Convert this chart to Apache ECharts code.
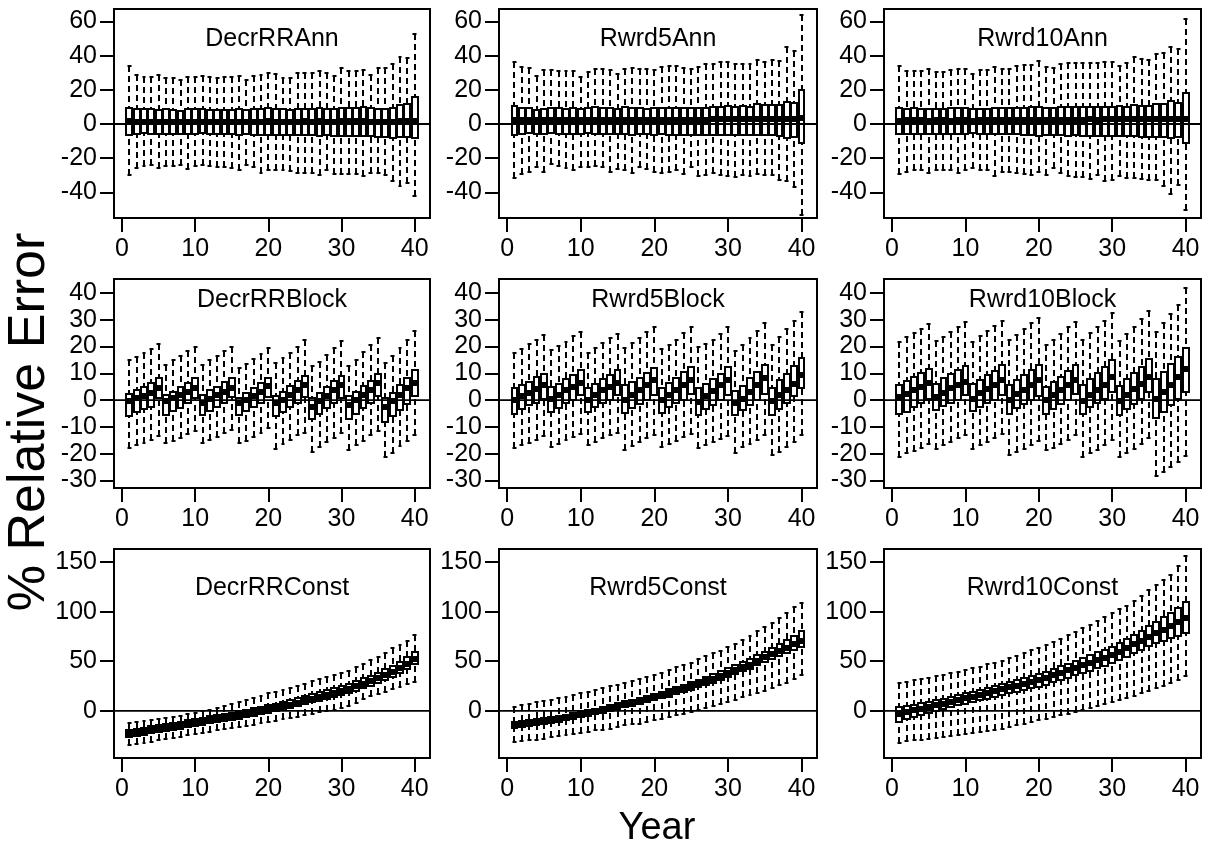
<!DOCTYPE html>
<html><head><meta charset="utf-8">
<script src="https://cdn.jsdelivr.net/npm/echarts@6/dist/echarts.min.js"></script>
<style>html,body{margin:0;padding:0;background:#fff}#c{width:1208px;height:852px}</style>
</head><body><div id="c"></div>
<script>
// ---------- DATA ----------
const years = [1,2,3,4,5,6,7,8,9,10,11,12,13,14,15,16,17,18,19,20,21,22,23,24,25,26,27,28,29,30,31,32,33,34,35,36,37,38,39,40];
const xTicks = [0,10,20,30,40];
const yTicksAnn = [-40,-20,0,20,40,60];
const yTicksBlock = [-30,-20,-10,0,10,20,30,40];
const yTicksConst = [0,50,100,150];
const panelTitles = ['DecrRRAnn','Rwrd5Ann','Rwrd10Ann','DecrRRBlock','Rwrd5Block','Rwrd10Block','DecrRRConst','Rwrd5Const','Rwrd10Const'];
const xLabel = 'Year';
const yLabel = '% Relative Error';

// DecrRRAnn
const decrAnnHi = [34,28.8,27.5,27.5,28.8,27,27,26,27.5,27.5,28.3,27.5,27,27.5,27.5,28.3,26,28,28.8,29.8,29.4,27,27,29.8,29.8,29.8,31,30,28.3,32.7,30.8,30.8,31.4,28.8,32.7,32.7,35,39,38.8,52.6];
const decrAnnQ3 = [9.5,8.8,8.5,8.8,8.3,8.6,8,7.8,8.6,8.5,8.8,8.2,8,8.4,8.2,8.5,8,8.5,9,9.3,9,8.5,8.4,8.8,9,8.8,9.2,8.6,8.8,9.6,9.3,9.2,10,9.3,8.8,8.8,9.5,11,11.8,15.6];
const decrAnnMed = [1.5,1.2,1.3,1.4,1.2,1.3,1.1,1.2,1.3,1.2,1.3,1.2,1.1,1.3,1.2,1.2,1.1,1.3,1.4,1.5,1.4,1.3,1.2,1.4,1.5,1.4,1.5,1.4,1.3,1.6,1.5,1.5,1.6,1.4,1.3,1.2,1.3,1.6,1.8,2];
const decrAnnQ1 = [-6.2,-5.6,-5.4,-5.6,-5.8,-5.6,-5.8,-6,-5.7,-5.6,-5.5,-5.8,-6,-5.9,-6,-6.2,-5.8,-6.3,-6.6,-6.4,-6.3,-6.4,-6.5,-6.6,-6.5,-6.6,-6.8,-6.5,-6.8,-6.9,-6.8,-6.9,-6.8,-7,-7.4,-7.8,-8.2,-7.6,-7.4,-8.2];
const decrAnnLo = [-30,-25.7,-24.8,-24.2,-25.7,-24.8,-24.8,-23.8,-26.3,-24.8,-24.2,-24.8,-25.1,-25.3,-25.7,-26.7,-23.8,-25.3,-28.6,-26.7,-26.7,-27.1,-27.7,-28.6,-28.6,-28.6,-29.6,-26.7,-29,-29,-29,-29,-30.2,-28.6,-28.6,-29.6,-33.5,-36.5,-34.5,-42.3];

// Rwrd5Ann
const r5AnnHi = [36.3,33.4,33,28,31.8,31.5,31,31,31,27.6,30.5,32,32,31.5,29,32.4,32.8,32.4,32,31.5,33.4,33.8,33.8,33,32.4,33.4,35,35.3,36,36.3,35.3,35.3,35.3,37.3,36.3,37.3,36.9,45,42.5,63.5];
const r5AnnQ3 = [10.5,9.2,9.5,8,9,9.2,9.3,9,9.2,9,9.4,9.8,9.5,9.3,9,9.8,9.2,9.4,9,9.3,9.2,9.5,9.3,9.6,9.4,9.2,9.5,10,10.2,10.5,10,10.3,10.2,11.5,11.3,11.2,11,13,12.5,19.8];
const r5AnnMed = [2.5,2.4,2.5,2.3,2.4,2.5,2.4,2.5,2.3,2.4,2.5,2.6,2.5,2.4,2.5,2.6,2.4,2.5,2.4,2.5,2.6,2.5,2.4,2.6,2.5,2.4,2.6,2.7,2.8,2.9,2.8,2.8,2.9,3,3,3.1,3,3.2,3.1,3.3];
const r5AnnQ1 = [-6.2,-5.7,-5.5,-5.8,-5.6,-5.4,-5.6,-5.8,-5.7,-5.6,-5.5,-5.7,-5.9,-6,-5.8,-5.9,-6.2,-6,-6.1,-6.2,-6.1,-6.3,-6.4,-6.3,-6.2,-6.6,-6.5,-6.3,-6.6,-6.7,-6.6,-6.5,-6.6,-6.4,-6.3,-6.6,-7,-8.3,-7.4,-10.9];
const r5AnnLo = [-31.7,-29,-27.8,-24.9,-28,-23.5,-24.3,-25.8,-26.8,-24.9,-25.2,-24.5,-25.4,-27.8,-26.4,-26.8,-28.7,-24.9,-26.4,-27.8,-28.7,-27.8,-27.2,-29,-24.9,-30.7,-29.7,-28.7,-29.7,-30.7,-31,-29.7,-30.3,-29.3,-29.7,-29.7,-32.6,-33.2,-36.9,-53];

// Rwrd10Ann
const r10AnnHi = [33.8,31,31,30.9,32.4,30.5,30.5,31.5,32.4,32.4,29,31.5,31.5,33.4,32.4,32.4,33.8,34.4,34.8,36.9,33.4,33,35.3,35.9,35.9,35.9,35.9,35.9,36.3,36.3,33.8,35.7,39.2,37.9,37.7,41.2,41.7,45,43.7,61.5];
const r10AnnQ3 = [9.5,8.8,9.6,8.9,9,8.8,9,9.2,9.4,9.1,8.8,9,9,9.3,9.4,9.2,9.5,9.6,9.8,9.7,9.5,9.6,9.8,10,9.9,9.8,10,10.2,10,10.1,10.3,10.2,11,10.6,10.8,12,12,13.5,12.5,18.3];
const r10AnnMed = [2,2.1,2.2,2.1,2,2.1,2.2,2,2.1,2.2,2,2.1,2.2,2.3,2.2,2.3,2.4,2.3,2.4,2.5,2.3,2.4,2.5,2.6,2.5,2.6,2.7,2.6,2.7,2.8,2.7,2.8,2.9,3,2.9,3,3.1,3.2,3,3.1];
const r10AnnQ1 = [-5.8,-5.6,-5.9,-5.7,-5.6,-5.8,-5.6,-5.7,-5.8,-5.6,-5.5,-5.8,-6,-6,-5.9,-6.1,-6,-6.2,-6.4,-6.9,-6.2,-6.4,-6.6,-6.8,-6.7,-6.8,-7.1,-6.8,-7.2,-7.1,-7,-7.3,-7.2,-7.4,-7.4,-7.6,-7.8,-7.9,-7.8,-10.9];
const r10AnnLo = [-29.1,-27.8,-26.8,-26.8,-28.7,-26.8,-27.2,-27.2,-28.7,-27.2,-25.8,-26.8,-27.2,-30.3,-28.3,-28.3,-28.7,-29.1,-29.7,-28.3,-29.7,-25.8,-28.7,-30.7,-31,-31,-32.2,-29.7,-33.6,-33,-30.7,-31.7,-31.7,-32,-32.6,-32.6,-36.5,-41,-35.5,-50.1];

// DecrRRBlock
const decrBlkHi = [15,16,17.6,19.2,21,13.2,14.8,16.3,18.2,19.8,13,14.8,16.3,18.4,20,12,13.6,15.3,17.3,19.4,13.8,15.7,17.6,19.8,22.3,12.6,14.4,16.9,19.4,21.9,12.8,15,17.9,20.7,23.2,13.8,16.6,19.4,22.3,25.7];
const decrBlkQ3 = [2.4,3.6,4.9,6.4,8.1,2,3.2,4.9,6.4,8.1,2,3.6,4.9,6.6,8.2,0.7,2.6,4.5,6.4,8.2,1.4,3.2,5.1,7,9.1,0.7,2.6,4.9,7,9.1,1.4,2.9,5.1,7.3,9.8,0.7,2.6,5.7,8.2,11.3];
const decrBlkMed = [-0.5,0.7,1.6,2.6,4.5,-0.5,0.7,2,3.2,4.5,-0.9,0.4,2,3.2,4.7,-1.1,0.1,1.6,3.2,5.1,-1.1,0.1,2,3.9,5.7,-2.4,-0.5,1.4,3.6,5.7,-1.7,0.1,2,3.9,6.4,-2.4,-0.5,2,4.5,6.4];
const decrBlkQ1 = [-5.9,-4.6,-3.4,-2.4,0.7,-5.5,-4.2,-3,-1.1,0.7,-5.5,-3.9,-2.4,-0.9,1,-5.5,-3.9,-2.4,-0.9,1,-6.1,-4.6,-2.6,-1.1,1.1,-7,-5.1,-3,-1.1,0.7,-7.1,-5.1,-3,-1.1,1.4,-8.3,-5.9,-3.6,-1.4,1.4];
const decrBlkLo = [-17.9,-16.7,-16.1,-14.8,-13.3,-16.1,-15.1,-14.2,-12.7,-11.7,-16.1,-14.8,-13.8,-12.3,-11.1,-16.1,-15.1,-13.6,-12.3,-10.5,-18.3,-16.3,-14.8,-13,-12.3,-19.2,-17.6,-15.8,-14.2,-12.3,-18.8,-16.7,-15.1,-13,-11.7,-21.3,-19.6,-17.3,-15.4,-12.9];

// Rwrd5Block
const r5BlkHi = [17.6,19,21,22.4,24.3,18.7,20.3,21.8,23.8,25.5,17.7,19.4,21.2,23,24.8,19.4,21.2,23,25.3,27.1,19,20.5,22.4,24.9,27.1,19.7,21,22.4,24.7,27.1,18.4,20.5,23,25.9,28.9,20.5,23.4,26.5,29.6,33];
const r5BlkQ3 = [4.4,5.6,6.8,8.5,9.7,5,6.2,7.7,9.3,11.2,4.4,6,7.7,9.3,11.2,5.6,6.8,8.1,10,11.8,4.7,6.5,8.1,10.6,12.5,4.4,6,7.7,9.7,12.2,3.5,5.2,8.1,10.6,13.1,4.7,7.5,9.7,12.7,15.6];
const r5BlkMed = [0,1.5,2.5,4,5.6,0.6,1.9,3.7,5,6.5,0,1.9,3.7,5,6.5,0,1.9,3.7,5.6,7.5,0,1.9,3.7,5.6,7.5,-0.6,1.5,3.5,5.6,7.5,-1.2,0.6,3.1,5.6,8.1,-0.2,1.9,3.7,6.2,9.3];
const r5BlkQ1 = [-5,-3.5,-1.9,-1,0.6,-4.4,-2.9,-1.2,0.2,1.9,-4.4,-2.7,-1.2,0.2,1.9,-4.7,-3.1,-1.5,0,1.9,-4.7,-2.7,-1.2,0.2,2.2,-5.6,-3.5,-1.9,0,1.9,-5.6,-3.7,-1.9,0,2.2,-5.6,-3.5,-1.2,1.5,4.4];
const r5BlkLo = [-18,-16.8,-15.9,-14.7,-13.4,-17.4,-16.2,-14.9,-13.7,-12.7,-16.8,-15.6,-14.3,-13,-12.2,-18.7,-17.2,-15.6,-14.3,-13,-17.4,-16.2,-15.2,-13.7,-12.5,-18,-16.8,-15.6,-14.6,-13.4,-19.7,-17.4,-16.2,-14.9,-13,-20.5,-19.3,-17.4,-15.6,-13];

// Rwrd10Block
const r10BlkHi = [21.8,23.4,24.9,26.4,28.4,22.2,23.7,25.5,27.1,29,21.8,23.9,25.8,27.8,29.6,22.4,24.3,26.4,28.6,30.5,20.5,22.4,24.7,27.1,29.3,22.4,24.9,27.1,29.6,32.6,22.2,24.7,27.4,30.1,33.4,25.5,28.9,32.1,35.5,42];
const r10BlkQ3 = [5.6,7.2,8.5,10,11.5,6.2,8.1,9.6,11.2,12.7,6,7.5,9.3,11,13.1,5.6,7.5,9.3,11.2,13.1,5,6.8,8.7,11,13.1,5.6,7.7,10,12.2,14.9,5.2,7.7,10,12.5,15.2,7.7,10.6,13.4,16.2,19.3];
const r10BlkMed = [1.2,2.2,3.7,5,6.5,1.2,2.5,4.4,5.6,6.8,0.6,2.5,4,5.6,7.5,0.2,2.2,3.7,5.6,7.5,0,1.9,3.7,5.6,7.5,-0.2,1.9,3.7,5.6,8.7,-0.2,1.9,4,6.2,8.7,0.6,3.1,5.6,8.7,11.5];
const r10BlkQ1 = [-5.2,-4.4,-2.7,-1,0.6,-3.7,-2.2,-1,0.2,1.9,-4,-2.7,-1.2,0.2,1.9,-5,-3.1,-1.5,0,1.5,-5,-3.5,-1.6,0,2.1,-5,-2.7,-1.2,0.6,3.1,-5.6,-3.5,-1.5,0.6,3.1,-6.5,-4.4,-1.9,0.6,3.1];
const r10BlkLo = [-21.2,-19.9,-18.9,-17.7,-16.4,-18.1,-16.8,-15.6,-14.3,-13,-18.1,-16.8,-15.6,-14.3,-12.7,-20.5,-19.3,-18.1,-16.8,-15.2,-18.7,-17.7,-16.2,-14.9,-13,-21.2,-19.7,-18.7,-16.8,-14.9,-21.2,-19.7,-18.1,-16.2,-14.3,-28.4,-26.8,-24.9,-23,-20.9];

// DecrRRConst
const decrConHi = [-12,-11,-10,-9,-8,-7,-6,-4.8,-3.5,-2,-0.5,1,2.7,4.5,6.5,8.5,10.7,13,15.2,17.5,19.2,21,23,25.2,27.5,29.8,32,34,35.8,37.7,40.4,44,47.5,51,54.5,58.5,63,66.5,70.5,76];
const decrConQ3 = [-19.2,-18,-16.8,-15.6,-14.4,-13.2,-12,-10.8,-9.5,-8.2,-6.9,-5.6,-4.3,-3.1,-1.8,-0.5,1,2.5,4.1,5.7,7.3,9,10.8,12.9,15.2,17,18.9,20.9,23,25.2,27.5,30,32.7,35.5,38.5,41.7,45,49.2,53.8,59];
const decrConMed = [-23,-21.8,-20.6,-19.4,-18.2,-17,-15.8,-14.6,-13.3,-12,-10.7,-9.4,-8.2,-7,-5.8,-4.5,-3,-1.6,0,1.5,3,4.6,6.3,8.3,10.5,12.2,14,15.9,17.9,20,22.2,24.6,27.1,29.8,32.7,35.8,39,43,47.5,52.5];
const decrConQ1 = [-26.3,-25.1,-23.9,-22.7,-21.5,-20.3,-19.1,-17.9,-16.6,-15.3,-14,-12.7,-11.5,-10.3,-9.1,-7.8,-6.4,-5,-3.4,-1.9,-0.4,1.2,2.9,4.8,6.9,8.6,10.3,12.1,14,16,18.1,20.4,22.8,25.4,28.2,31.2,34.3,38.2,42.6,47.5];
const decrConLo = [-34.7,-33.5,-32.3,-31,-29.8,-28.6,-27.3,-26,-24.6,-23.2,-22,-20.8,-19.6,-18.5,-17.3,-16.1,-15,-13.8,-12.5,-11.2,-10,-8.7,-7.4,-6,-4.5,-3,-1.5,0,1.3,2.8,5.2,8.2,11.5,14.5,17,19.2,21.6,24.3,27,29.3];

// Rwrd5Const
const r5ConHi = [4,5.5,7,8.5,10,11.3,12.6,14,15.7,17.5,19.2,21,22.8,24.6,26.4,28.2,30,32,34,36,38.4,41,43.8,46.2,48.5,52,55.3,58,60.7,64,67.4,71.5,75.5,80,84,89,94,98.4,104.5,109];
const r5ConQ3 = [-11,-10.2,-9.3,-8.4,-7.5,-6.5,-5.4,-4.2,-2.6,-0.9,0.7,2.2,3.9,5.7,7.6,9.5,11.3,13.2,15,16.9,19.5,21.6,24,26.4,28.9,31.5,34.2,36.9,39.8,42.8,45.8,48.9,52.1,55.8,59.7,63.5,67.1,71,75.3,80];
const r5ConMed = [-13.5,-12.7,-11.8,-10.9,-10,-9,-7.9,-6.7,-5.1,-3.4,-2,-0.5,1.2,3,4.9,6.8,8.6,10.5,12.3,14.2,16,18,20.3,22.6,25,27.5,30,32.6,35.3,38,40.8,43.7,46.7,50.3,54,57.2,60.4,63.7,67.2,70.8];
const r5ConQ1 = [-16.8,-15.9,-15,-14,-13,-12,-10.9,-9.6,-8,-6.2,-4.9,-3.4,-1.8,0,1.8,3.6,5.3,7.2,9,10.8,12.5,14.4,16.6,18.8,21.1,23.6,26,28.5,31.4,34.4,37.1,39.8,42.6,45.9,49.5,52.5,55.5,58.6,61.6,64.7];
const r5ConLo = [-31.3,-30.3,-29.7,-29,-28,-26.3,-25.6,-24.6,-22.9,-22.2,-21.2,-19.5,-18.9,-17.9,-16.2,-14.5,-13.5,-12.8,-11,-9.4,-7.8,-6,-4.4,-2.7,-1,0.7,2.4,4.7,6.7,9.1,10.8,13.5,15.8,18.2,20.2,22.6,26,28.3,31.7,36];

// Rwrd10Const
const r10ConHi = [27.6,29.3,31,32,33.4,35,36,37.7,39.4,41.1,42.8,44.5,46.8,48.5,50.6,52.9,55.3,58,61,63.5,66.5,69.5,72.5,76,79.5,83.2,86.6,91,95,98.4,102.5,106,111,116,121.3,127,132,137.2,145.6,155.7];
const r10ConQ3 = [3.4,4.7,6.2,7.7,9.2,10.7,12.3,14,15.7,17.5,19.4,21.3,23.2,25.2,27.2,29.2,31.2,33.1,35.1,37,39.6,42.2,44.8,47.5,50.3,53.1,56,58.9,61.8,64.7,68.6,72.6,76.6,80.8,85.6,89.9,94.4,98.9,103.9,109.2];
const r10ConMed = [-3,-1.3,0.4,2.1,3.8,5.5,7.2,9,10.7,12.5,14.3,16.1,17.9,19.8,21.7,23.6,25.5,27.3,29.2,31,33.4,35.8,38.2,40.7,43.2,45.8,48.4,51,53.6,56.3,59.8,63.4,67,70.8,74.8,78.3,81.9,85.5,89.4,93.4];
const r10ConQ1 = [-11,-8.7,-6.5,-4.3,-2.2,-0.2,1.7,3.7,5.5,7.4,9,10.6,12.3,14,15.7,17.5,19.2,20.9,22.6,24.3,26.5,28.8,31,33.3,35.7,38.1,40.5,43,45.4,47.9,51.2,54.6,58,61.6,65.4,67.9,70.5,73.1,75.8,78.2];
const r10ConLo = [-32.4,-30.3,-29.7,-29,-28,-27,-26.3,-25.6,-24.6,-23.6,-22.2,-21.2,-20.2,-18.9,-17.9,-16.2,-14.5,-12.8,-11.1,-9.4,-7.8,-6.1,-4.4,-2.7,-1,0.7,2.4,4.7,6.7,9.1,10.8,12.5,14.8,17.5,20.2,22.6,25.3,27.6,31,35];

// ---------- LAYOUT / STYLE ----------
const FONT = '"Liberation Sans", Arial, sans-serif';
const colLeft = [114, 499, 884];
const colWidth = [316, 318, 317];
const rowTop = [9, 279, 549];
const rowHeight = 209;
const xMin = -1.1, xMax = 42.1;
const rowY = [
  {min: -55, max: 67.3, ticks: yTicksAnn},
  {min: -32.8, max: 45.2, ticks: yTicksBlock},
  {min: -47.5, max: 163.1, ticks: yTicksConst}
];
const titleY = [39, 300.5, 588];
const LW = 2, MLW = 6;
const TICK_FS = 25, TITLE_FS = 25;

const panels = [
  [decrAnnLo, decrAnnQ1, decrAnnMed, decrAnnQ3, decrAnnHi],
  [r5AnnLo, r5AnnQ1, r5AnnMed, r5AnnQ3, r5AnnHi],
  [r10AnnLo, r10AnnQ1, r10AnnMed, r10AnnQ3, r10AnnHi],
  [decrBlkLo, decrBlkQ1, decrBlkMed, decrBlkQ3, decrBlkHi],
  [r5BlkLo, r5BlkQ1, r5BlkMed, r5BlkQ3, r5BlkHi],
  [r10BlkLo, r10BlkQ1, r10BlkMed, r10BlkQ3, r10BlkHi],
  [decrConLo, decrConQ1, decrConMed, decrConQ3, decrConHi],
  [r5ConLo, r5ConQ1, r5ConMed, r5ConQ3, r5ConHi],
  [r10ConLo, r10ConQ1, r10ConMed, r10ConQ3, r10ConHi]
];

function renderBox(params, api) {
  const x = api.value(0);
  const R = Math.round;
  const yLo = R(api.coord([x, api.value(1)])[1]);
  const yQ1 = R(api.coord([x, api.value(2)])[1]);
  const yMd = R(api.coord([x, api.value(3)])[1]);
  const yQ3 = R(api.coord([x, api.value(4)])[1]);
  const yHi = R(api.coord([x, api.value(5)])[1]);
  const cxf = api.coord([x, 0])[0];
  const unit = api.size([1, 0])[0];
  const bw = unit * 0.8, sw = bw * 0.5;
  const cx = R(cxf);
  const bl = R(cxf - bw / 2), br = R(cxf + bw / 2);
  const sl = R(cxf - sw / 2) - 0.5, sr = R(cxf + sw / 2) + 0.5;
  const ln = (x1, y1, x2, y2, extra) => ({
    type: 'line', shape: {x1, y1, x2, y2},
    style: Object.assign({stroke: '#000', lineWidth: LW, fill: null}, extra || {})
  });
  return {type: 'group', children: [
    ln(cx, yHi, cx, yQ3, {lineDash: [6, 4]}),
    ln(cx, yLo, cx, yQ1, {lineDash: [6, 4]}),
    ln(sl, yHi, sr, yHi),
    ln(sl, yLo, sr, yLo),
    {type: 'rect', shape: {x: bl, y: yQ3, width: br - bl, height: yQ1 - yQ3},
     style: {fill: '#fff', stroke: '#000', lineWidth: LW}},
    ln(bl, yMd, br, yMd, {lineWidth: MLW, lineCap: 'butt'})
  ]};
}

const grids = [], xAxes = [], yAxes = [], series = [], graphics = [];
panels.forEach((p, i) => {
  const r = Math.floor(i / 3), c = i % 3;
  grids.push({left: colLeft[c], top: rowTop[r], width: colWidth[c], height: rowHeight,
    show: true, borderColor: '#000', borderWidth: LW, backgroundColor: 'transparent'});
  xAxes.push({type: 'value', gridIndex: i, min: xMin, max: xMax, position: 'bottom',
    axisLine: {show: false, onZero: false}, splitLine: {show: false},
    axisTick: {show: true, inside: false, length: 14, customValues: xTicks, lineStyle: {color: '#000', width: LW}},
    axisLabel: {show: true, customValues: xTicks, margin: 19, color: '#000', fontSize: TICK_FS, fontFamily: FONT}});
  yAxes.push({type: 'value', gridIndex: i, min: rowY[r].min, max: rowY[r].max, position: 'left',
    axisLine: {show: false, onZero: false}, splitLine: {show: false},
    axisTick: {show: true, inside: false, length: 14, customValues: rowY[r].ticks, lineStyle: {color: '#000', width: LW}},
    axisLabel: {show: true, customValues: rowY[r].ticks, margin: 17, color: '#000', fontSize: TICK_FS, fontFamily: FONT}});
  series.push({type: 'custom', xAxisIndex: i, yAxisIndex: i, clip: false, silent: true,
    renderItem: renderBox, encode: {x: 0, y: [1, 2, 3, 4, 5]},
    data: years.map((yr, k) => [yr, p[0][k], p[1][k], p[2][k], p[3][k], p[4][k]]), z: 2});
  series.push({type: 'line', xAxisIndex: i, yAxisIndex: i, silent: true, symbol: 'none', z: 5,
    lineStyle: {color: '#000', width: 1.8}, data: [[xMin, 0], [xMax, 0]]});
  graphics.push({type: 'text', x: colLeft[c] + colWidth[c] / 2, y: titleY[r],
    style: {text: panelTitles[i], fill: '#000', font: TITLE_FS + 'px ' + FONT, textAlign: 'center', textVerticalAlign: 'middle'}});
});
graphics.push({type: 'text', x: 657, y: 829,
  style: {text: xLabel, fill: '#000', font: '38px ' + FONT, textAlign: 'center', textVerticalAlign: 'middle'}});
graphics.push({type: 'text', x: 30, y: 422, rotation: Math.PI / 2,
  style: {text: yLabel, fill: '#000', font: '52px ' + FONT, textAlign: 'center', textVerticalAlign: 'middle'}});

const chart = echarts.init(document.getElementById('c'), null, {renderer: 'canvas'});
chart.setOption({
  animation: false, backgroundColor: '#fff',
  grid: grids, xAxis: xAxes, yAxis: yAxes, series: series, graphic: graphics
});
</script></body></html>
